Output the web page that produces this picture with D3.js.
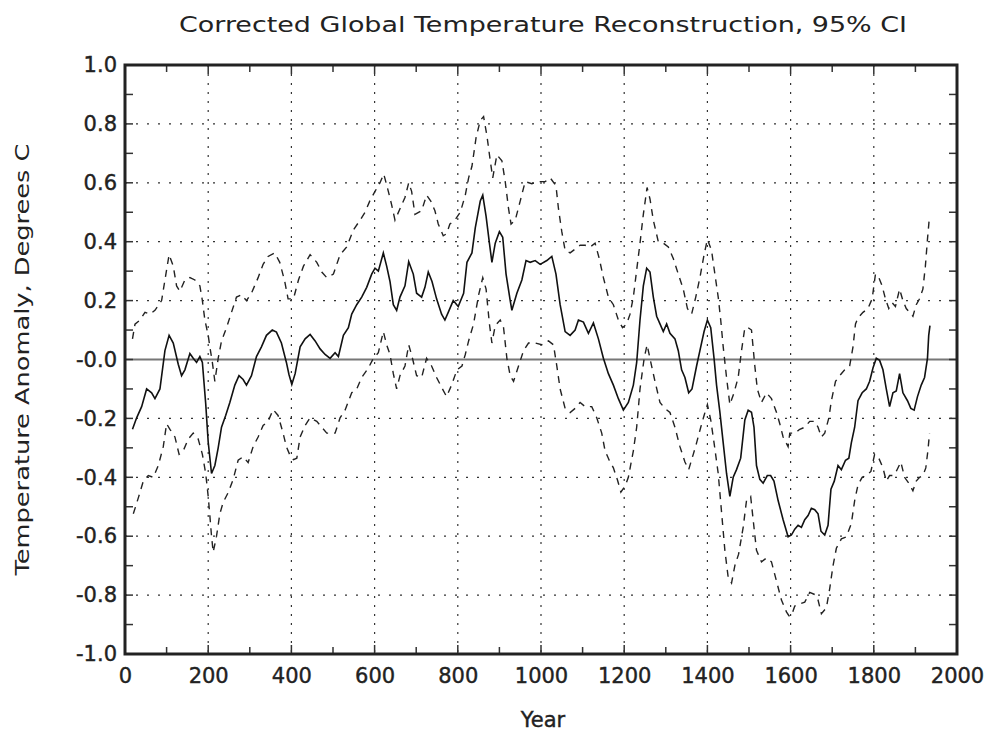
<!DOCTYPE html>
<html>
<head>
<meta charset="utf-8">
<script src="https://cdn.jsdelivr.net/npm/d3@7"></script>
<style>
  body { margin: 0; background: #fff; }
  text { font-family: "DejaVu Sans", sans-serif; fill: #222; }
</style>
</head>
<body>
<div id="chart"></div>
<script>
// reconstruction values: [year, anomaly]
var central = [[18,-0.237],[28,-0.198],[40,-0.16],[52,-0.10],[64,-0.113],[72,-0.133],[84,-0.10],[96,0.03],[106,0.082],[116,0.056],[128,-0.016],[136,-0.055],[144,-0.035],[156,0.02],[164,0.004],[172,-0.01],[180,0.01],[186,-0.01],[194,-0.15],[200,-0.28],[208,-0.387],[216,-0.36],[224,-0.30],[232,-0.23],[242,-0.19],[252,-0.146],[264,-0.087],[274,-0.055],[284,-0.068],[292,-0.087],[304,-0.055],[316,0.01],[328,0.043],[340,0.082],[354,0.10],[364,0.093],[376,0.056],[388,-0.01],[394,-0.05],[401,-0.085],[409,-0.048],[421,0.043],[433,0.07],[445,0.085],[457,0.063],[469,0.036],[481,0.017],[493,0.004],[505,0.023],[513,0.01],[525,0.082],[537,0.108],[545,0.154],[557,0.186],[569,0.212],[581,0.245],[593,0.29],[601,0.31],[609,0.30],[621,0.362],[629,0.317],[637,0.265],[645,0.186],[653,0.167],[661,0.212],[673,0.25],[682,0.332],[693,0.29],[701,0.225],[713,0.212],[721,0.245],[729,0.297],[738,0.265],[749,0.206],[761,0.154],[769,0.134],[777,0.16],[789,0.2],[801,0.18],[814,0.225],[822,0.33],[834,0.362],[842,0.447],[854,0.538],[860,0.558],[868,0.486],[876,0.395],[882,0.33],[890,0.395],[900,0.434],[908,0.415],[916,0.29],[926,0.2],[930,0.167],[942,0.225],[954,0.27],[964,0.336],[974,0.33],[986,0.336],[998,0.323],[1014,0.336],[1026,0.35],[1036,0.29],[1046,0.186],[1058,0.095],[1070,0.082],[1082,0.10],[1090,0.134],[1102,0.127],[1114,0.089],[1126,0.124],[1138,0.07],[1150,0.004],[1162,-0.048],[1174,-0.087],[1186,-0.133],[1198,-0.172],[1210,-0.146],[1222,-0.087],[1230,-0.01],[1238,0.134],[1246,0.25],[1254,0.31],[1262,0.297],[1270,0.212],[1278,0.147],[1286,0.121],[1294,0.095],[1302,0.121],[1310,0.089],[1322,0.07],[1330,0.03],[1338,-0.035],[1346,-0.061],[1355,-0.113],[1363,-0.10],[1374,-0.022],[1382,0.03],[1392,0.095],[1400,0.134],[1408,0.108],[1416,0.004],[1422,-0.087],[1430,-0.179],[1438,-0.283],[1446,-0.387],[1454,-0.465],[1462,-0.40],[1470,-0.374],[1480,-0.335],[1490,-0.205],[1498,-0.172],[1506,-0.179],[1512,-0.23],[1518,-0.36],[1526,-0.407],[1534,-0.42],[1544,-0.394],[1552,-0.394],[1560,-0.413],[1570,-0.479],[1582,-0.544],[1594,-0.602],[1602,-0.596],[1610,-0.576],[1618,-0.563],[1626,-0.57],[1634,-0.544],[1642,-0.53],[1650,-0.505],[1658,-0.51],[1666,-0.524],[1673,-0.583],[1682,-0.596],[1690,-0.563],[1697,-0.44],[1705,-0.413],[1714,-0.36],[1722,-0.374],[1732,-0.342],[1740,-0.335],[1746,-0.283],[1754,-0.23],[1762,-0.14],[1772,-0.113],[1782,-0.10],[1790,-0.074],[1798,-0.029],[1806,0.004],[1814,-0.003],[1822,-0.035],[1830,-0.10],[1838,-0.16],[1846,-0.113],[1854,-0.107],[1862,-0.048],[1870,-0.113],[1881,-0.14],[1889,-0.166],[1897,-0.172],[1905,-0.126],[1914,-0.087],[1922,-0.061],[1929,0.004],[1932,0.082],[1935,0.115]];

var upper = [[18,0.07],[24,0.12],[36,0.134],[48,0.16],[60,0.154],[72,0.167],[88,0.2],[96,0.27],[106,0.356],[116,0.317],[124,0.25],[132,0.232],[144,0.27],[156,0.278],[168,0.27],[180,0.25],[186,0.2],[192,0.134],[200,0.082],[204,0.043],[210,-0.01],[216,-0.074],[224,0.004],[232,0.063],[244,0.108],[256,0.16],[268,0.212],[280,0.22],[292,0.2],[304,0.225],[320,0.278],[332,0.323],[344,0.35],[360,0.362],[372,0.33],[384,0.265],[392,0.206],[405,0.206],[417,0.27],[429,0.317],[445,0.356],[461,0.33],[473,0.297],[485,0.278],[501,0.29],[517,0.356],[533,0.382],[549,0.44],[565,0.473],[577,0.50],[589,0.54],[601,0.571],[613,0.60],[622,0.63],[633,0.571],[641,0.525],[649,0.473],[661,0.512],[673,0.55],[682,0.60],[689,0.571],[697,0.493],[713,0.505],[725,0.558],[735,0.538],[745,0.505],[753,0.46],[765,0.42],[773,0.427],[781,0.46],[793,0.473],[806,0.50],[818,0.558],[826,0.617],[834,0.656],[844,0.754],[854,0.812],[862,0.825],[870,0.76],[878,0.675],[884,0.617],[894,0.695],[906,0.675],[914,0.604],[922,0.512],[928,0.46],[938,0.473],[950,0.538],[962,0.604],[978,0.597],[994,0.604],[1010,0.604],[1022,0.617],[1036,0.59],[1042,0.512],[1050,0.434],[1058,0.37],[1070,0.362],[1082,0.375],[1094,0.388],[1106,0.388],[1118,0.382],[1130,0.395],[1140,0.343],[1150,0.278],[1162,0.212],[1174,0.186],[1186,0.134],[1196,0.108],[1206,0.121],[1214,0.154],[1222,0.212],[1230,0.304],[1238,0.395],[1246,0.493],[1255,0.584],[1262,0.545],[1270,0.473],[1282,0.40],[1294,0.395],[1306,0.382],[1318,0.343],[1330,0.29],[1342,0.239],[1352,0.173],[1362,0.154],[1372,0.212],[1382,0.278],[1392,0.356],[1400,0.408],[1410,0.37],[1418,0.29],[1426,0.212],[1432,0.134],[1438,0.043],[1446,-0.061],[1454,-0.153],[1464,-0.113],[1474,-0.061],[1482,0.03],[1490,0.108],[1498,0.108],[1506,0.10],[1514,-0.022],[1520,-0.10],[1530,-0.146],[1542,-0.113],[1554,-0.133],[1566,-0.179],[1574,-0.218],[1582,-0.263],[1594,-0.296],[1598,-0.25],[1610,-0.25],[1622,-0.237],[1634,-0.23],[1646,-0.21],[1658,-0.21],[1666,-0.23],[1674,-0.263],[1682,-0.25],[1692,-0.198],[1698,-0.14],[1708,-0.074],[1718,-0.055],[1730,-0.035],[1742,-0.022],[1750,0.043],[1756,0.121],[1762,0.141],[1774,0.16],[1786,0.173],[1796,0.206],[1804,0.29],[1812,0.278],[1820,0.25],[1828,0.206],[1836,0.173],[1844,0.193],[1852,0.18],[1862,0.239],[1870,0.2],[1878,0.173],[1886,0.16],[1894,0.147],[1902,0.186],[1910,0.206],[1918,0.239],[1924,0.317],[1929,0.408],[1933,0.473]];

var lower = [[20,-0.524],[32,-0.47],[44,-0.413],[56,-0.394],[68,-0.40],[80,-0.36],[92,-0.296],[100,-0.218],[108,-0.237],[120,-0.263],[130,-0.322],[140,-0.31],[152,-0.27],[164,-0.25],[176,-0.27],[186,-0.322],[194,-0.387],[200,-0.465],[204,-0.53],[208,-0.60],[212,-0.654],[220,-0.60],[228,-0.524],[236,-0.485],[248,-0.452],[260,-0.407],[272,-0.342],[284,-0.33],[296,-0.35],[308,-0.296],[320,-0.263],[332,-0.224],[344,-0.21],[356,-0.17],[368,-0.19],[380,-0.25],[388,-0.296],[398,-0.33],[405,-0.34],[413,-0.335],[421,-0.263],[433,-0.224],[445,-0.198],[461,-0.21],[473,-0.23],[485,-0.25],[505,-0.25],[517,-0.198],[529,-0.172],[545,-0.113],[557,-0.10],[569,-0.061],[585,-0.029],[597,0.004],[609,0.023],[621,0.095],[629,0.05],[637,0.017],[645,-0.048],[653,-0.10],[661,-0.055],[673,-0.022],[682,0.05],[690,0.01],[701,-0.055],[713,-0.061],[725,0.004],[737,-0.022],[749,-0.061],[761,-0.094],[773,-0.126],[785,-0.087],[798,-0.035],[810,-0.022],[818,0.017],[826,0.063],[838,0.121],[850,0.219],[860,0.278],[868,0.239],[876,0.121],[882,0.056],[890,0.115],[902,0.134],[910,0.108],[918,0.004],[926,-0.055],[934,-0.074],[946,-0.022],[958,0.03],[970,0.056],[986,0.056],[1002,0.05],[1018,0.063],[1030,0.05],[1038,-0.022],[1046,-0.10],[1058,-0.166],[1070,-0.18],[1082,-0.166],[1094,-0.146],[1106,-0.16],[1122,-0.16],[1134,-0.198],[1146,-0.25],[1154,-0.31],[1164,-0.342],[1174,-0.368],[1184,-0.41],[1192,-0.45],[1202,-0.43],[1210,-0.40],[1222,-0.31],[1230,-0.23],[1238,-0.10],[1248,0.004],[1255,0.05],[1264,-0.01],[1274,-0.074],[1286,-0.146],[1298,-0.166],[1310,-0.18],[1322,-0.23],[1334,-0.296],[1346,-0.348],[1355,-0.374],[1366,-0.322],[1374,-0.283],[1384,-0.23],[1392,-0.19],[1400,-0.153],[1408,-0.205],[1416,-0.283],[1426,-0.387],[1434,-0.518],[1442,-0.648],[1450,-0.74],[1458,-0.759],[1466,-0.70],[1475,-0.661],[1486,-0.57],[1494,-0.479],[1504,-0.465],[1510,-0.544],[1518,-0.648],[1530,-0.687],[1542,-0.674],[1554,-0.687],[1566,-0.752],[1578,-0.817],[1590,-0.857],[1596,-0.87],[1602,-0.87],[1610,-0.837],[1622,-0.83],[1634,-0.824],[1646,-0.791],[1658,-0.798],[1666,-0.817],[1674,-0.863],[1686,-0.843],[1694,-0.778],[1702,-0.70],[1710,-0.641],[1722,-0.609],[1734,-0.602],[1746,-0.557],[1754,-0.479],[1762,-0.426],[1772,-0.40],[1782,-0.394],[1793,-0.38],[1802,-0.322],[1812,-0.335],[1822,-0.368],[1830,-0.413],[1838,-0.394],[1846,-0.394],[1854,-0.38],[1865,-0.348],[1874,-0.40],[1884,-0.42],[1894,-0.446],[1902,-0.413],[1910,-0.40],[1918,-0.394],[1925,-0.368],[1930,-0.31],[1934,-0.25]];

var xTicks = [0, 200, 400, 600, 800, 1000, 1200, 1400, 1600, 1800, 2000];
var yTicks = [1.0, 0.8, 0.6, 0.4, 0.2, 0.0, -0.2, -0.4, -0.6, -0.8, -1.0];
var yTickLabels = ["1.0","0.8","0.6","0.4","0.2","-0.0","-0.2","-0.4","-0.6","-0.8","-1.0"];

var W = 992, H = 733;
var margin = {top: 65, right: 35, bottom: 79, left: 125};
var width = W - margin.left - margin.right,
    height = H - margin.top - margin.bottom;

var svg = d3.select("#chart").append("svg")
    .attr("width", W)
    .attr("height", H);

var g = svg.append("g")
    .attr("transform", "translate(" + margin.left + "," + margin.top + ")");

var x = d3.scaleLinear().domain([0, 2000]).range([0, width]);
var y = d3.scaleLinear().domain([-1, 1]).range([height, 0]);

// dotted grid
g.append("g").selectAll("line")
  .data(xTicks.slice(1, -1))
  .enter().append("line")
    .attr("x1", d => x(d)).attr("x2", d => x(d))
    .attr("y1", 0).attr("y2", height)
    .attr("stroke", "#333").attr("stroke-width", 1.2)
    .attr("stroke-dasharray", "2,7");

g.append("g").selectAll("line")
  .data(yTicks.filter(d => d != 0 && Math.abs(d) != 1))
  .enter().append("line")
    .attr("x1", 0).attr("x2", width)
    .attr("y1", d => y(d)).attr("y2", d => y(d))
    .attr("stroke", "#333").attr("stroke-width", 1.2)
    .attr("stroke-dasharray", "2,9");

// zero line
g.append("line")
  .attr("x1", 0).attr("x2", width)
  .attr("y1", y(0)).attr("y2", y(0))
  .attr("stroke", "#777").attr("stroke-width", 2);

// minor ticks inside the frame
var xMinor = d3.range(100, 2000, 100);
var yMinor = d3.range(-9, 10).map(d => d / 10);

g.append("g").selectAll("line")
  .data(xMinor).enter().append("line")
    .attr("x1", d => x(d)).attr("x2", d => x(d))
    .attr("y1", 0).attr("y2", d => d % 200 == 0 ? 9 : 7)
    .attr("stroke", "#333").attr("stroke-width", 1.5);
g.append("g").selectAll("line")
  .data(xMinor).enter().append("line")
    .attr("x1", d => x(d)).attr("x2", d => x(d))
    .attr("y1", height).attr("y2", d => height - (d % 200 == 0 ? 9 : 7))
    .attr("stroke", "#333").attr("stroke-width", 1.5);
g.append("g").selectAll("line")
  .data(yMinor).enter().append("line")
    .attr("x1", 0).attr("x2", 8)
    .attr("y1", d => y(d)).attr("y2", d => y(d))
    .attr("stroke", "#333").attr("stroke-width", 1.5);
g.append("g").selectAll("line")
  .data(yMinor).enter().append("line")
    .attr("x1", width).attr("x2", width - 8)
    .attr("y1", d => y(d)).attr("y2", d => y(d))
    .attr("stroke", "#333").attr("stroke-width", 1.5);

// series
var line = d3.line()
  .x(d => x(d[0]))
  .y(d => y(d[1]));

g.append("path").datum(upper)
  .attr("d", line).attr("fill", "none")
  .attr("stroke", "#222").attr("stroke-width", 1.4)
  .attr("stroke-dasharray", "7,6");
g.append("path").datum(lower)
  .attr("d", line).attr("fill", "none")
  .attr("stroke", "#222").attr("stroke-width", 1.4)
  .attr("stroke-dasharray", "7,6");
g.append("path").datum(central)
  .attr("d", line).attr("fill", "none")
  .attr("stroke", "#111").attr("stroke-width", 1.6);

// frame
g.append("rect")
  .attr("x", 0).attr("y", 0)
  .attr("width", width).attr("height", height)
  .attr("fill", "none").attr("stroke", "#222").attr("stroke-width", 3);

// axes (labels only)
var xAxis = g.append("g")
  .attr("transform", "translate(0," + height + ")")
  .call(d3.axisBottom(x).tickValues(xTicks).tickSize(0).tickPadding(14).tickFormat(d3.format("d")));
xAxis.select(".domain").remove();
xAxis.selectAll("text")
  .style("font-size", "21px").style("font-family", "DejaVu Sans, sans-serif")
  .attr("fill", "#222").attr("stroke", "#222").attr("stroke-width", 0.4);

var yAxis = g.append("g")
  .call(d3.axisLeft(y).tickValues(yTicks).tickSize(0).tickPadding(8)
        .tickFormat((d, i) => yTickLabels[i]));
yAxis.select(".domain").remove();
yAxis.selectAll("text")
  .style("font-size", "21px").style("font-family", "DejaVu Sans, sans-serif")
  .attr("fill", "#222").attr("stroke", "#222").attr("stroke-width", 0.4);

// titles
svg.append("text")
  .attr("x", 543).attr("y", 32)
  .attr("text-anchor", "middle")
  .attr("textLength", 728).attr("lengthAdjust", "spacingAndGlyphs")
  .style("font-size", "21px")
  .text("Corrected Global Temperature Reconstruction, 95% CI");

svg.append("text")
  .attr("x", 543).attr("y", 727)
  .attr("text-anchor", "middle")
  .style("font-size", "21px")
  .attr("stroke", "#222").attr("stroke-width", 0.4)
  .text("Year");

svg.append("text")
  .attr("transform", "translate(29," + (margin.top + height / 2) + ") rotate(-90)")
  .attr("text-anchor", "middle")
  .attr("textLength", 432).attr("lengthAdjust", "spacingAndGlyphs")
  .style("font-size", "20px")
  .text("Temperature Anomaly, Degrees C");
</script>
</body>
</html>
